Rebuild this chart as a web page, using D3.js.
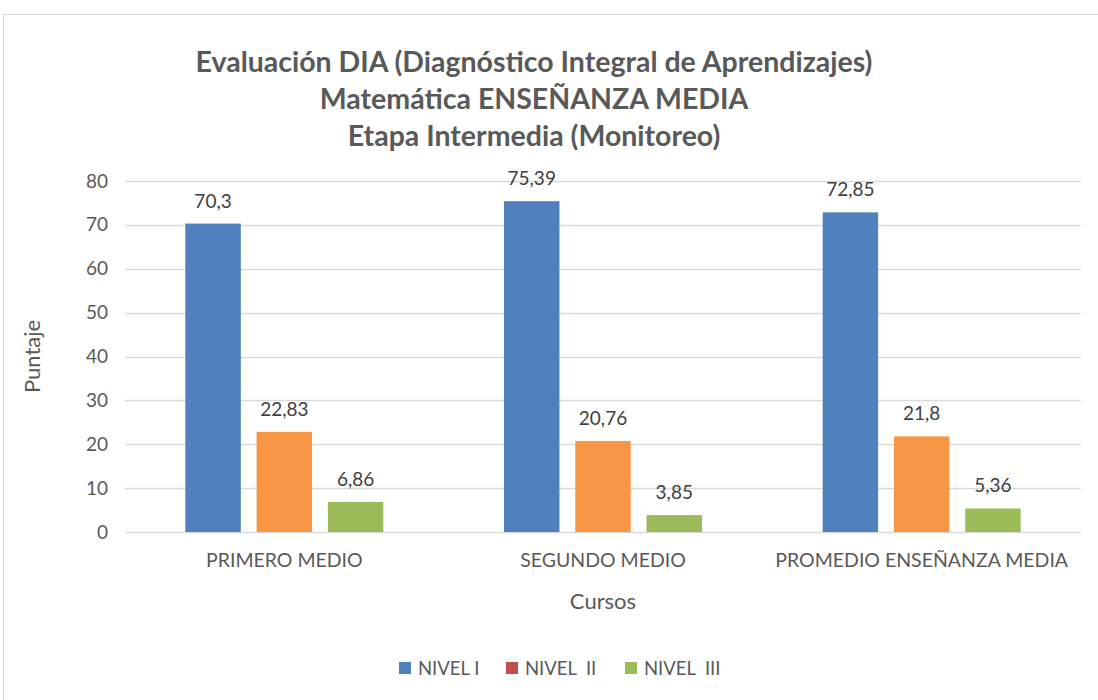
<!DOCTYPE html>
<html>
<head>
<meta charset="utf-8">
<script src="https://cdn.jsdelivr.net/npm/d3@7"></script>
<style>
  body { margin: 0; background: #fff; }
  svg { font-family: Lato, "Open Sans", sans-serif; }
  text { white-space: pre; }
</style>
</head>
<body>
<svg id="chart" width="1098" height="700"></svg>
<script>
// data
var cursos = ['PRIMERO MEDIO', 'SEGUNDO MEDIO', 'PROMEDIO ENSEÑANZA MEDIA'];
var niveles = ['NIVEL I', 'NIVEL  II', 'NIVEL  III'];
var nivel1 = [70.3, 75.39, 72.85];
var nivel2 = [22.83, 20.76, 21.8];
var nivel3 = [6.86, 3.85, 5.36];
var yTicks = [0, 10, 20, 30, 40, 50, 60, 70, 80];
var titleLines = ['Evaluación DIA (Diagnóstico Integral de Aprendizajes)', 'Matemática ENSEÑANZA MEDIA', 'Etapa Intermedia (Monitoreo)'];

var barColors = ['#4F81BD', '#F79646', '#9BBB59'];
var legendColors = ['#4F81BD', '#C0504D', '#9BBB59'];
var series = [nivel1, nivel2, nivel3];

var svg = d3.select('#chart');

// chart frame
svg.append('rect')
    .attr('x', 3.5).attr('y', 14.5)
    .attr('width', 1110).attr('height', 700)
    .attr('fill', '#fff')
    .attr('stroke', '#d9d9d9');

var plotLeft = 125, plotRight = 1081, plotTop = 181, plotBottom = 532;

var x = d3.scaleBand().domain(cursos).range([plotLeft, plotRight]);
var xSub = d3.scaleBand().domain([0, 1, 2]).range([0, 198]).paddingInner(0.222);
var y = d3.scaleLinear().domain([0, 80]).range([plotBottom, plotTop]);

// gridlines
svg.append('g').selectAll('line')
    .data(yTicks)
    .join('line')
    .attr('x1', plotLeft).attr('x2', plotRight)
    .attr('y1', function(d) { return Math.round(y(d)) + 0.5; })
    .attr('y2', function(d) { return Math.round(y(d)) + 0.5; })
    .attr('stroke', '#d9d9d9')
    .attr('stroke-width', 1.3);

// y axis labels
var yAxis = d3.axisLeft(y).tickValues(yTicks).tickSize(0).tickPadding(0);
var gy = svg.append('g').attr('transform', 'translate(' + (plotLeft - 17) + ',0)').call(yAxis);
gy.select('.domain').remove();
gy.selectAll('text')
    .attr('font-size', 19)
    .attr('fill', '#595959')
    .attr('font-family', 'Lato, sans-serif');

// bars
var groups = svg.append('g').selectAll('g')
    .data(cursos)
    .join('g')
    .attr('transform', function(d) { return 'translate(' + (x(d) + x.bandwidth() / 2 - 99) + ',0)'; });

groups.each(function(c, ci) {
    var g = d3.select(this);
    series.forEach(function(s, si) {
        g.append('rect')
            .attr('x', xSub(si))
            .attr('width', xSub.bandwidth())
            .attr('y', y(s[ci]))
            .attr('height', plotBottom - y(s[ci]))
            .attr('fill', barColors[si]);
        g.append('text')
            .attr('x', xSub(si) + xSub.bandwidth() / 2)
            .attr('y', y(s[ci]) - 16)
            .attr('text-anchor', 'middle')
            .attr('font-size', 19)
            .attr('fill', '#404040')
            .text(String(s[ci]).replace('.', ','));
    });
});

// x axis labels
var xAxis = d3.axisBottom(x).tickSize(0).tickPadding(0);
var gx = svg.append('g').attr('transform', 'translate(0,' + (plotBottom + 21) + ')').call(xAxis);
gx.select('.domain').remove();
gx.selectAll('text')
    .attr('font-size', 19.5)
    .attr('fill', '#595959')
    .attr('font-family', 'Lato, sans-serif');

// axis titles
svg.append('text')
    .attr('x', (plotLeft + plotRight) / 2).attr('y', 609)
    .attr('text-anchor', 'middle')
    .attr('font-size', 22)
    .attr('fill', '#595959')
    .text('Cursos');

svg.append('text')
    .attr('transform', 'translate(40,' + ((plotTop + plotBottom) / 2) + ') rotate(-90)')
    .attr('text-anchor', 'middle')
    .attr('font-size', 22)
    .attr('fill', '#595959')
    .text('Puntaje');

// title
svg.append('g').selectAll('text')
    .data(titleLines)
    .join('text')
    .attr('x', 534)
    .attr('y', function(d, i) { return 72 + i * 37; })
    .attr('text-anchor', 'middle')
    .attr('font-size', 28.5)
    .attr('font-weight', 'bold')
    .attr('fill', '#595959')
    .text(function(d) { return d; });

// legend
var legendX = [399, 506, 625];
var leg = svg.append('g').selectAll('g')
    .data(niveles)
    .join('g')
    .attr('transform', function(d, i) { return 'translate(' + legendX[i] + ',662)'; });
leg.append('rect')
    .attr('width', 12).attr('height', 12)
    .attr('fill', function(d, i) { return legendColors[i]; });
leg.append('text')
    .attr('x', 19).attr('y', 13)
    .attr('font-size', 18.5)
    .attr('fill', '#595959')
    .text(function(d) { return d; });
</script>
</body>
</html>
